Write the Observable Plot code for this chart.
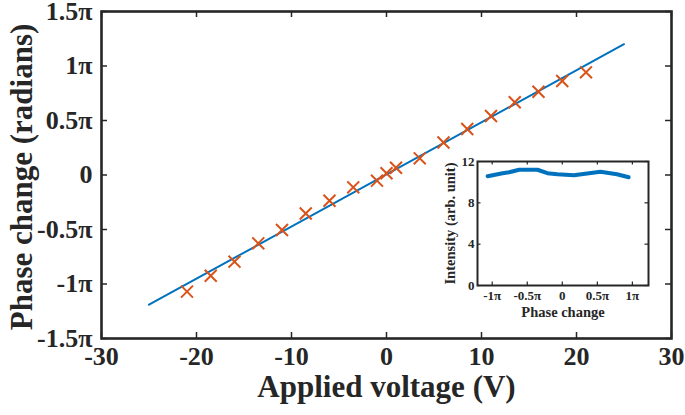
<!DOCTYPE html>
<html>
<head>
<meta charset="utf-8">
<script src="https://cdn.jsdelivr.net/npm/d3@7"></script>
<script src="https://cdn.jsdelivr.net/npm/@observablehq/plot@0.6"></script>
<style>
  html, body { margin: 0; padding: 0; background: white; }
  #wrap { position: relative; width: 685px; height: 415px; }
  #inset { position: absolute; left: 430px; top: 150px; }
</style>
</head>
<body>
<div id="wrap"><div id="main"></div><div id="inset"></div></div>
<script>
// Main chart data (phase in units of π)
const voltage = [-21, -18.5, -16, -13.5, -11, -8.5, -6, -3.5, -1, 0, 1, 3.5, 6, 8.5, 11, 13.5, 16, 18.5, 21];
const phase = [-1.07, -0.924, -0.795, -0.627, -0.505, -0.353, -0.236, -0.113, -0.052, 0.016, 0.067, 0.153, 0.298, 0.422, 0.541, 0.667, 0.764, 0.862, 0.942];
const fitVoltage = [-25, 25];
const fitPhase = [-1.19, 1.2];
const xTicks = [-30, -20, -10, 0, 10, 20, 30];
const xTickLabels = ["-30", "-20", "-10", "0", "10", "20", "30"];
const yTicks = [-1.5, -1, -0.5, 0, 0.5, 1, 1.5];
const yTickLabels = ["-1.5π", "-1π", "-0.5π", "0", "0.5π", "1π", "1.5π"];

// Inset data
const insetPhase = [-1.065, -0.852, -0.758, -0.616, -0.355, -0.213, -0.071, 0.165, 0.544, 0.78, 0.946];
const insetIntensity = [10.58, 10.87, 10.96, 11.2, 11.2, 10.87, 10.77, 10.67, 11.0, 10.77, 10.48];
const insetXTicks = [-1, -0.5, 0, 0.5, 1];
const insetXTickLabels = ["-1π", "-0.5π", "0", "0.5π", "1π"];
const insetYTicks = [0, 4, 8, 12];
const insetYTickLabels = ["0", "4", "8", "12"];

const serif = "'Liberation Serif', 'Times New Roman', serif";
const ink = "#262626";
const blue = "#0072BD";
const orange = "#D95319";

// ---- main chart ----
const W = 685, H = 415, mL = 101, mR = 14, mT = 11, mB = 77;
const innerW = W - mL - mR, innerH = H - mT - mB, tk = 6;
const main = Plot.plot({
  width: W, height: H,
  marginLeft: mL, marginRight: mR, marginTop: mT, marginBottom: mB,
  style: {fontFamily: serif, fontWeight: "bold", color: ink, background: "transparent"},
  x: {domain: [-30, 30]},
  y: {domain: [-1.5, 1.5]},
  marks: [
    Plot.line(fitVoltage.map((v, i) => ({v, p: fitPhase[i]})), {x: "v", y: "p", stroke: blue, strokeWidth: 2}),
    Plot.dot(voltage.map((v, i) => ({v, p: phase[i]})), {x: "v", y: "p", symbol: "times", r: 5.5, stroke: orange, strokeWidth: 2}),
    // inward ticks on all four sides
    Plot.tickX(xTicks, {x: d => d, insetTop: innerH - tk, stroke: ink, strokeWidth: 1.5}),
    Plot.tickX(xTicks, {x: d => d, insetBottom: innerH - tk, stroke: ink, strokeWidth: 1.5}),
    Plot.tickY(yTicks, {y: d => d, insetRight: innerW - tk, stroke: ink, strokeWidth: 1.5}),
    Plot.tickY(yTicks, {y: d => d, insetLeft: innerW - tk, stroke: ink, strokeWidth: 1.5}),
    Plot.axisX({ticks: xTicks, tickSize: 0, tickPadding: 8, fontSize: 26, label: null, fill: ink,
      tickFormat: d => xTickLabels[xTicks.indexOf(d)]}),
    Plot.axisY({ticks: yTicks, tickSize: 0, tickPadding: 9, fontSize: 26, label: null, fill: ink,
      tickFormat: d => yTickLabels[yTicks.indexOf(d)]}),
    Plot.frame({stroke: ink, strokeWidth: 2.6}),
    Plot.text(["Applied voltage (V)"], {frameAnchor: "bottom", dy: 58, fontSize: 31, fill: ink}),
    Plot.text(["Phase change (radians)"], {frameAnchor: "left", textAnchor: "middle", dx: -79, dy: 2, rotate: -90, fontSize: 31, fill: ink})
  ]
});
document.getElementById("main").appendChild(main);

// ---- inset ----
const iW = 230, iH = 180, imL = 47, imR = 12, imT = 11, imB = 45;
const iInnerW = iW - imL - imR, iInnerH = iH - imT - imB, itk = 3.5;
const inset = Plot.plot({
  width: iW, height: iH,
  marginLeft: imL, marginRight: imR, marginTop: imT, marginBottom: imB,
  style: {fontFamily: serif, fontWeight: "bold", color: ink, background: "transparent", overflow: "visible"},
  x: {domain: [-1.21, 1.23]},
  y: {domain: [0, 12]},
  marks: [
    Plot.frame({fill: "white"}),
    Plot.line(insetPhase.map((p, i) => ({p, v: insetIntensity[i]})), {x: "p", y: "v", stroke: blue, strokeWidth: 4, strokeLinejoin: "round"}),
    Plot.tickX(insetXTicks, {x: d => d, insetTop: iInnerH - itk, stroke: ink, strokeWidth: 1.2}),
    Plot.tickX(insetXTicks, {x: d => d, insetBottom: iInnerH - itk, stroke: ink, strokeWidth: 1.2}),
    Plot.tickY(insetYTicks, {y: d => d, insetRight: iInnerW - itk, stroke: ink, strokeWidth: 1.2}),
    Plot.tickY(insetYTicks, {y: d => d, insetLeft: iInnerW - itk, stroke: ink, strokeWidth: 1.2}),
    Plot.axisX({ticks: insetXTicks, tickSize: 0, tickPadding: 5, fontSize: 13, label: null, fill: ink,
      tickFormat: d => insetXTickLabels[insetXTicks.indexOf(d)]}),
    Plot.axisY({ticks: insetYTicks, tickSize: 0, tickPadding: 3, fontSize: 13, label: null, fill: ink,
      tickFormat: d => insetYTickLabels[insetYTicks.indexOf(d)]}),
    Plot.frame({stroke: ink, strokeWidth: 2}),
    Plot.text(["Phase change"], {frameAnchor: "bottom", dy: 31, fontSize: 14.5, fill: ink}),
    Plot.text(["Intensity (arb. unit)"], {frameAnchor: "left", textAnchor: "middle", dx: -27, rotate: -90, fontSize: 14.5, fill: ink})
  ]
});
document.getElementById("inset").appendChild(inset);
</script>
</body>
</html>
